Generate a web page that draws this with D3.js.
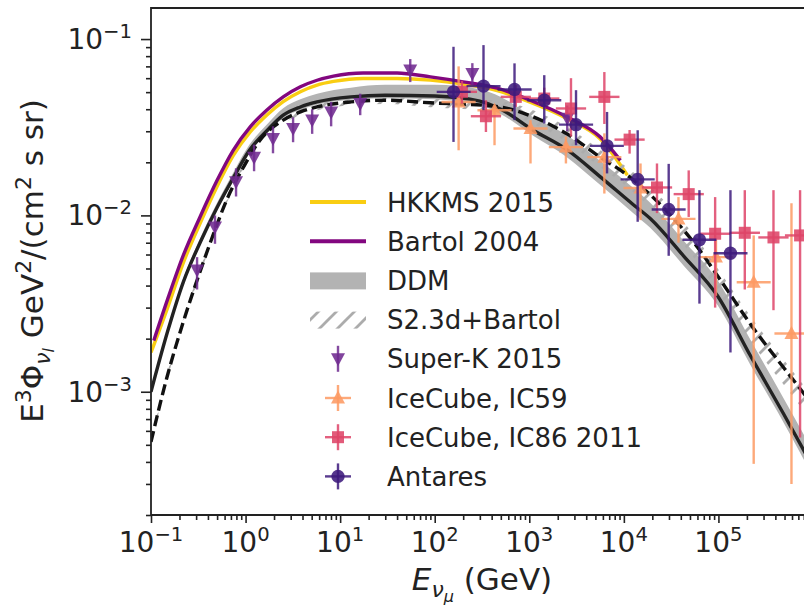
<!DOCTYPE html>
<html>
<head>
<meta charset="utf-8">
<script src="https://cdn.jsdelivr.net/npm/d3@7"></script>
<style>
  body { margin: 0; background: #fff; }
  svg { display: block; font-family: "DejaVu Sans", sans-serif; }
</style>
</head>
<body>
<div id="chart"></div>
<script>
// model curves, energy in GeV and E^3 flux in GeV^2/(cm^2 s sr)
var hkkmsE    = [0.1, 0.15, 0.22, 0.33, 0.5, 0.74, 1.12, 1.67, 2.5, 3.8, 5.7, 8.5, 17.5, 40, 90, 200, 457, 1020, 2500, 5600, 10900];
var hkkmsFlux = [1.67e-3, 3.0e-3, 5.4e-3, 9.0e-3, 0.0146, 0.0218, 0.0297, 0.037, 0.0442, 0.0503, 0.0548, 0.0575, 0.0598, 0.0598, 0.0585, 0.0555, 0.051, 0.0438, 0.0354, 0.0272, 0.0169];

var bartolE    = [0.107, 0.15, 0.22, 0.33, 0.5, 0.74, 1.12, 1.67, 2.5, 3.8, 5.7, 8.5, 17.5, 40, 90, 200, 457, 1020, 2500, 5600, 9200];
var bartolFlux = [1.95e-3, 3.35e-3, 5.95e-3, 9.8e-3, 0.0158, 0.0234, 0.0318, 0.0395, 0.047, 0.0536, 0.0584, 0.0616, 0.0642, 0.0642, 0.061, 0.0572, 0.0527, 0.045, 0.0362, 0.0279, 0.0205];

var ddmE    = [0.1, 0.15, 0.22, 0.33, 0.5, 0.75, 1.1, 1.7, 2.5, 3.8, 5.7, 13, 30, 100, 300, 500, 1100, 2500, 5600, 12600, 19000, 42700, 97700, 218000, 488000, 1e6];
var ddmFlux = [1.0e-3, 2.2e-3, 4.2e-3, 7.0e-3, 0.0111, 0.0165, 0.0234, 0.0304, 0.037, 0.0412, 0.044, 0.047, 0.048, 0.0475, 0.0445, 0.040, 0.0304, 0.0236, 0.0166, 0.0115, 9.6e-3, 5.9e-3, 3.5e-3, 1.6e-3, 7.5e-4, 3.75e-4];
var ddmHi   = [1.05e-3, 2.3e-3, 4.4e-3, 7.4e-3, 0.0118, 0.0177, 0.0252, 0.033, 0.0405, 0.0455, 0.049, 0.053, 0.055, 0.055, 0.052, 0.047, 0.036, 0.0285, 0.0204, 0.0143, 0.0118, 7.2e-3, 4.3e-3, 1.97e-3, 9.2e-4, 4.6e-4];
var ddmLo   = [0.97e-3, 2.13e-3, 4.05e-3, 6.75e-3, 0.0107, 0.0159, 0.0226, 0.0294, 0.0357, 0.0397, 0.0424, 0.0452, 0.0462, 0.0455, 0.0423, 0.0375, 0.0283, 0.0214, 0.0149, 0.0103, 8.5e-3, 5.2e-3, 3.1e-3, 1.42e-3, 6.7e-4, 3.3e-4];

var s23E    = [0.1, 0.147, 0.22, 0.33, 0.46, 0.63, 0.95, 1.42, 2.5, 3.8, 5.7, 13, 30, 90, 450, 1100, 2500, 5600, 10000, 26000, 60000, 105000, 233000, 500000, 1e6];
var s23Flux = [5.2e-4, 1.2e-3, 2.5e-3, 4.8e-3, 7.9e-3, 0.0122, 0.0188, 0.0267, 0.0347, 0.0386, 0.0412, 0.044, 0.045, 0.0435, 0.0415, 0.0362, 0.029, 0.0214, 0.0175, 0.0111, 6.6e-3, 4.3e-3, 2.3e-3, 1.35e-3, 8.4e-4];
var s23Hi   = [5.4e-4, 1.25e-3, 2.6e-3, 5.0e-3, 8.2e-3, 0.0127, 0.0196, 0.0279, 0.0364, 0.0407, 0.0436, 0.0469, 0.0482, 0.0468, 0.0449, 0.0395, 0.0318, 0.0236, 0.0193, 0.0123, 7.3e-3, 4.75e-3, 2.55e-3, 1.5e-3, 9.3e-4];
var s23Lo   = [5.0e-4, 1.15e-3, 2.4e-3, 4.6e-3, 7.6e-3, 0.0117, 0.018, 0.0256, 0.0333, 0.037, 0.0395, 0.0422, 0.0428, 0.041, 0.0385, 0.033, 0.026, 0.0188, 0.015, 9.3e-3, 5.4e-3, 3.5e-3, 1.85e-3, 1.08e-3, 6.7e-4];

// measurements
var skE    = [0.307, 0.475, 0.793, 1.23, 1.95, 3.18, 5.06, 8.03, 16.3, 55.1, 250, 2520];
var skFlux = [4.9e-3, 8.6e-3, 0.0155, 0.0214, 0.0273, 0.0311, 0.0347, 0.0386, 0.0431, 0.0667, 0.0638, 0.0355];
var skLo   = [3.8e-3, 6.9e-3, 0.0128, 0.0178, 0.0225, 0.026, 0.029, 0.032, 0.037, 0.057, 0.055, 0.030];
var skHi   = [5.8e-3, 0.010, 0.0185, 0.0252, 0.032, 0.036, 0.040, 0.044, 0.049, 0.077, 0.073, 0.042];

var ic59E    = [179, 429, 1030, 2440, 6220, 15000, 37800, 94200, 236000, 592000];
var ic59Emin = [118, 283, 680, 1610, 4110, 9910, 25000, 62200, 156000, 391000];
var ic59Emax = [271, 650, 1560, 3690, 9420, 22700, 57200, 143000, 357000, 896000];
var ic59Flux = [0.044, 0.0395, 0.0311, 0.0244, 0.0214, 0.0143, 9.55e-3, 5.8e-3, 4.18e-3, 2.14e-3];
var ic59Lo   = [0.0234, 0.025, 0.0197, 0.0197, 0.0133, 9.4e-3, 7.0e-3, 3.5e-3, 3.9e-4, 3.0e-4];
var ic59Hi   = [0.07, 0.042, 0.0347, 0.028, 0.0292, 0.0197, 0.0127, 7.3e-3, 7.7e-3, 0.0117];

var ic86E    = [194, 348, 720, 1440, 2760, 6220, 11500, 22400, 48500, 92300, 190000, 382000, 730000];
var ic86Emin = [134, 241, 498, 997, 1910, 4300, 7960, 15500, 33600, 63900, 131000, 264000, 505000];
var ic86Emax = [280, 503, 1040, 2080, 3990, 8990, 16600, 32400, 70100, 133000, 275000, 552000, 1050000];
var ic86Flux = [0.0502, 0.0365, 0.047, 0.046, 0.0404, 0.047, 0.0269, 0.0144, 0.0132, 7.87e-3, 7.97e-3, 7.5e-3, 7.7e-3];
var ic86Lo   = [0.043, 0.0297, 0.0413, 0.040, 0.028, 0.033, 0.0224, 0.0103, 9.8e-3, 3.0e-3, 3.8e-3, 2.9e-3, 5.5e-4];
var ic86Hi   = [0.058, 0.045, 0.0548, 0.053, 0.060, 0.065, 0.0305, 0.0197, 0.018, 0.0127, 0.0139, 0.0139, 0.0139];

var antE    = [158, 328, 698, 1440, 3120, 6640, 14000, 29800, 63000, 134000];
var antEmin = [105, 217, 462, 950, 2060, 4390, 9240, 19700, 41600, 88600];
var antEmax = [240, 497, 1060, 2180, 4730, 10000, 21200, 45000, 95200, 203000];
var antFlux = [0.0502, 0.0541, 0.0518, 0.045, 0.0327, 0.0248, 0.016, 0.0108, 7.27e-3, 6.1e-3];
var antLo   = [0.0261, 0.0395, 0.0347, 0.0332, 0.025, 0.0173, 9.2e-3, 5.9e-3, 3.16e-3, 1.67e-3];
var antHi   = [0.0904, 0.0924, 0.0728, 0.0624, 0.0513, 0.0386, 0.0304, 0.0196, 0.0139, 0.0139];

var xTickExp = [-1, 0, 1, 2, 3, 4, 5, 6];
var xLabelExp = [-1, 0, 1, 2, 3, 4, 5];
var yTickExp = [-3, -2, -1];

var legendLabels = ["HKKMS 2015", "Bartol 2004", "DDM", "S2.3d+Bartol", "Super-K 2015", "IceCube, IC59", "IceCube, IC86 2011", "Antares"];

var margin = {top: 8, left: 151};
var width = 662, height = 507;

var svg = d3.select("#chart").append("svg")
    .attr("width", 804)
    .attr("height", 609);

var defs = svg.append("defs");
defs.append("clipPath").attr("id", "plotclip")
  .append("rect").attr("x", 0).attr("y", 0).attr("width", width).attr("height", height);

// grey '/' hatch
var hatch = defs.append("pattern")
    .attr("id", "hatch")
    .attr("patternUnits", "userSpaceOnUse")
    .attr("width", 18).attr("height", 18);
hatch.append("path")
    .attr("d", "M0,18L18,0M-4.5,4.5L4.5,-4.5M13.5,22.5L22.5,13.5")
    .attr("stroke", "#acacac")
    .attr("stroke-width", 2.8);

var g = svg.append("g")
    .attr("transform", "translate(" + margin.left + "," + margin.top + ")");

var xScale = d3.scaleLog().domain([0.1, 1e6]).range([0, width]);
var yScale = d3.scaleLog().domain([2e-4, 0.15]).range([height, 0]);

var plot = g.append("g").attr("clip-path", "url(#plotclip)");

var zip = function(a, b) { return a.map(function(v, i) { return [v, b[i]]; }); };
var zip3 = function(a, b, c) { return a.map(function(v, i) { return [v, b[i], c[i]]; }); };

var line = d3.line()
    .x(function(d) { return xScale(d[0]); })
    .y(function(d) { return yScale(d[1]); })
    .curve(d3.curveMonotoneX);

var band = d3.area()
    .x(function(d) { return xScale(d[0]); })
    .y0(function(d) { return yScale(d[1]); })
    .y1(function(d) { return yScale(d[2]); })
    .curve(d3.curveMonotoneX);

var lw = 3.4;

plot.append("path").datum(zip(hkkmsE, hkkmsFlux))
    .attr("d", line).attr("fill", "none").attr("stroke", "#f9cd12").attr("stroke-width", lw);
plot.append("path").datum(zip(bartolE, bartolFlux))
    .attr("d", line).attr("fill", "none").attr("stroke", "#82077f").attr("stroke-width", lw);

plot.append("path").datum(zip3(ddmE, ddmLo, ddmHi))
    .attr("d", band).attr("fill", "#b3b3b3");
plot.append("path").datum(zip3(s23E, s23Lo, s23Hi))
    .attr("d", band).attr("fill", "url(#hatch)");

plot.append("path").datum(zip(ddmE, ddmFlux))
    .attr("d", line).attr("fill", "none").attr("stroke", "#222").attr("stroke-width", lw);
plot.append("path").datum(zip(s23E, s23Flux))
    .attr("d", line).attr("fill", "none").attr("stroke", "#111").attr("stroke-width", lw)
    .attr("stroke-dasharray", "11,5");

// markers
var markerPath = {
  down: "M-7,-5.5L7,-5.5L0,7.5Z",
  up: "M0,-7.5L7,5.5L-7,5.5Z",
  square: "M-6,-6L6,-6L6,6L-6,6Z",
  circle: d3.symbol().type(d3.symbolCircle).size(140)()
};

var series = [
  {E: skE, flux: skFlux, lo: skLo, hi: skHi, marker: "down", color: "#6f2a8f"},
  {E: ic59E, Emin: ic59Emin, Emax: ic59Emax, flux: ic59Flux, lo: ic59Lo, hi: ic59Hi, marker: "up", color: "#fd9a63"},
  {E: ic86E, Emin: ic86Emin, Emax: ic86Emax, flux: ic86Flux, lo: ic86Lo, hi: ic86Hi, marker: "square", color: "#de4468"},
  {E: antE, Emin: antEmin, Emax: antEmax, flux: antFlux, lo: antLo, hi: antHi, marker: "circle", color: "#3d1a7c"}
];

series.forEach(function(s) {
  var sg = plot.append("g");
  var idx = d3.range(s.E.length);
  sg.selectAll(".ey").data(idx).enter().append("line")
    .attr("x1", function(i) { return xScale(s.E[i]); })
    .attr("x2", function(i) { return xScale(s.E[i]); })
    .attr("y1", function(i) { return yScale(s.lo[i]); })
    .attr("y2", function(i) { return yScale(s.hi[i]); })
    .attr("stroke", s.color).attr("stroke-width", 2.4).attr("stroke-opacity", 0.85);
  if (s.Emin) {
    sg.selectAll(".ex").data(idx).enter().append("line")
      .attr("x1", function(i) { return xScale(s.Emin[i]); })
      .attr("x2", function(i) { return xScale(s.Emax[i]); })
      .attr("y1", function(i) { return yScale(s.flux[i]); })
      .attr("y2", function(i) { return yScale(s.flux[i]); })
      .attr("stroke", s.color).attr("stroke-width", 2.4).attr("stroke-opacity", 0.85);
  }
  sg.selectAll(".mk").data(idx).enter().append("path")
    .attr("d", markerPath[s.marker])
    .attr("transform", function(i) { return "translate(" + xScale(s.E[i]) + "," + yScale(s.flux[i]) + ")"; })
    .attr("fill", s.color).attr("fill-opacity", 0.88);
});

// axes ticks
var xMinor = [], yMinor = [];
xTickExp.slice(0, -1).forEach(function(p) {
  for (var k = 2; k < 10; k++) xMinor.push(k * Math.pow(10, p));
});
[-4, -3, -2, -1].forEach(function(p) {
  for (var k = 2; k < 10; k++) {
    var v = k * Math.pow(10, p);
    if (v >= 2e-4 && v <= 0.15) yMinor.push(v);
  }
});

var styleAxis = function(sel) {
  sel.select(".domain").remove();
  sel.selectAll("line").attr("stroke", "#222").attr("stroke-width", 1.6);
};

g.append("g").attr("transform", "translate(0," + height + ")")
  .call(d3.axisBottom(xScale).tickValues(xTickExp.map(function(p) { return Math.pow(10, p); }))
    .tickSize(8).tickSizeOuter(0).tickFormat(""))
  .call(styleAxis);
g.append("g").attr("transform", "translate(0," + height + ")")
  .call(d3.axisBottom(xScale).tickValues(xMinor).tickSize(5).tickSizeOuter(0).tickFormat(""))
  .call(styleAxis);
g.append("g")
  .call(d3.axisLeft(yScale).tickValues(yTickExp.map(function(p) { return Math.pow(10, p); }))
    .tickSize(10).tickSizeOuter(0).tickFormat(""))
  .call(styleAxis);
g.append("g")
  .call(d3.axisLeft(yScale).tickValues(yMinor).tickSize(5).tickSizeOuter(0).tickFormat(""))
  .call(styleAxis);

// frame
g.append("path")
  .attr("d", "M" + width + ",0H0V" + height + "H" + width)
  .attr("fill", "none").attr("stroke", "#222").attr("stroke-width", 1.8);

var powLabel = function(t, p) {
  t.append("tspan").text("10");
  t.append("tspan").attr("dy", -11).attr("font-size", 19.6)
    .text(p < 0 ? "\u2212" + (-p) : String(p));
};

xLabelExp.forEach(function(p) {
  var t = g.append("text")
    .attr("x", xScale(Math.pow(10, p)))
    .attr("y", 544)
    .attr("text-anchor", "middle")
    .attr("font-size", 28)
    .attr("fill", "#222");
  powLabel(t, p);
});

yTickExp.forEach(function(p) {
  var t = g.append("text")
    .attr("x", -19)
    .attr("y", yScale(Math.pow(10, p)) + 10)
    .attr("text-anchor", "end")
    .attr("font-size", 28)
    .attr("fill", "#222");
  powLabel(t, p);
});

// x label
var xl = svg.append("text")
  .attr("x", 482).attr("y", 590)
  .attr("text-anchor", "middle")
  .attr("font-size", 31)
  .attr("fill", "#222");
xl.append("tspan").attr("font-style", "italic").text("E");
xl.append("tspan").attr("font-style", "italic").attr("font-size", 22).attr("dy", 7).text("\u03bd");
xl.append("tspan").attr("font-style", "italic").attr("font-size", 16).attr("dy", 5).text("\u03bc");
xl.append("tspan").attr("dy", -12).text(" (GeV)");

// y label
var yl = svg.append("text")
  .attr("transform", "translate(43,261) rotate(-90)")
  .attr("text-anchor", "middle")
  .attr("font-size", 31)
  .attr("fill", "#222");
yl.append("tspan").text("E");
yl.append("tspan").attr("font-size", 22).attr("dy", -12).text("3");
yl.append("tspan").attr("dy", 12).text("\u03a6");
yl.append("tspan").attr("font-style", "italic").attr("font-size", 22).attr("dy", 7).text("\u03bd");
yl.append("tspan").attr("font-style", "italic").attr("font-size", 16).attr("dy", 4).text("l");
yl.append("tspan").attr("dy", -11).text(" GeV");
yl.append("tspan").attr("font-size", 22).attr("dy", -12).text("2");
yl.append("tspan").attr("dy", 12).text("/(cm");
yl.append("tspan").attr("font-size", 22).attr("dy", -12).text("2");
yl.append("tspan").attr("dy", 12).text(" s sr)");

// legend
var legend = svg.append("g");
var rowY = function(i) { return 202 + i * 39.2; };
var hx0 = 310, hx1 = 366, hxc = 338;

legend.append("line").attr("x1", hx0).attr("x2", hx1).attr("y1", rowY(0)).attr("y2", rowY(0))
  .attr("stroke", "#f9cd12").attr("stroke-width", 4);
legend.append("line").attr("x1", hx0).attr("x2", hx1).attr("y1", rowY(1)).attr("y2", rowY(1))
  .attr("stroke", "#82077f").attr("stroke-width", 4);
legend.append("rect").attr("x", hx0).attr("y", rowY(2) - 8).attr("width", hx1 - hx0).attr("height", 17)
  .attr("fill", "#b3b3b3");
legend.append("rect").attr("x", hx0).attr("y", rowY(3) - 8).attr("width", hx1 - hx0).attr("height", 17)
  .attr("fill", "url(#hatch)");

series.forEach(function(s, k) {
  var cy = rowY(4 + k);
  legend.append("line").attr("x1", hxc).attr("x2", hxc).attr("y1", cy - 13).attr("y2", cy + 13)
    .attr("stroke", s.color).attr("stroke-width", 2.4).attr("stroke-opacity", 0.85);
  if (s.Emin) {
    legend.append("line").attr("x1", hxc - 13).attr("x2", hxc + 13).attr("y1", cy).attr("y2", cy)
      .attr("stroke", s.color).attr("stroke-width", 2.4).attr("stroke-opacity", 0.85);
  }
  legend.append("path").attr("d", markerPath[s.marker])
    .attr("transform", "translate(" + hxc + "," + cy + ")")
    .attr("fill", s.color).attr("fill-opacity", 0.88);
});

legend.selectAll(".lab").data(legendLabels).enter().append("text")
  .attr("x", 387)
  .attr("y", function(d, i) { return rowY(i) + 9.5; })
  .attr("font-size", 26)
  .attr("fill", "#222")
  .text(function(d) { return d; });
</script>
</body>
</html>
